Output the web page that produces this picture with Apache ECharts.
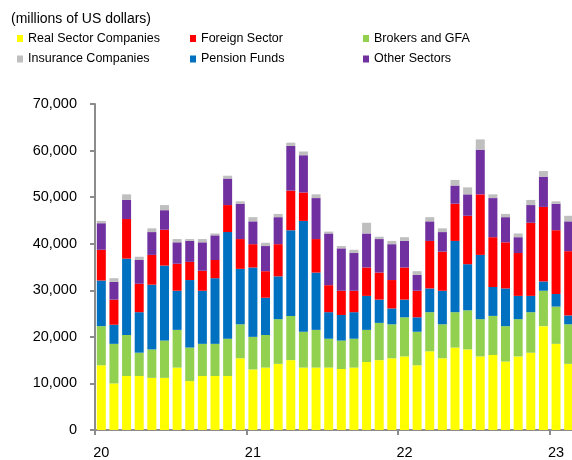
<!DOCTYPE html>
<html>
<head>
<meta charset="utf-8">
<script src="https://cdn.jsdelivr.net/npm/echarts@6/dist/echarts.min.js"></script>
<style>
html,body{margin:0;padding:0;background:#fff;overflow:hidden;width:572px;height:460px;}
#chart{width:580px;height:460px;}
</style>
</head>
<body>
<div id="chart"></div>
<script>
var months = [];
for (var y = 2020; y <= 2023; y++) {
  for (var m = 1; m <= 12; m++) {
    if (y === 2023 && m > 2) break;
    months.push(y + '-' + (m < 10 ? '0' + m : m));
  }
}
var yTicks = [0, 10000, 20000, 30000, 40000, 50000, 60000, 70000];

var realSector = [13900,10000,11600,11600,11200,11200,13400,10500,11600,11600,11600,15400,
                  13000,13400,14200,15000,13400,13400,13400,13100,13400,14600,15000,15400,
                  15800,13900,16900,15400,17700,17300,15800,16100,14700,15800,16600,22300,
                  18500,14200];
var brokers    = [8400,8500,8800,5000,6100,8000,8100,7200,6900,6900,8000,7300,
                  7000,7000,9600,9500,7700,8100,6200,6100,6200,6900,8000,7300,
                  8400,7200,8400,7300,7600,8400,8000,8400,7600,8000,8700,7600,
                  8000,8500];
var pension    = [9800,4100,16400,8700,13900,16100,8400,14500,11400,14100,22900,11900,
                  14900,8000,9200,18400,23800,12300,5700,5500,5700,7300,5000,3400,
                  3800,3100,5100,7200,15300,9900,13800,6200,8100,5000,3500,2000,
                  2700,1900];
var foreign    = [6600,5400,8500,6100,6400,7700,5800,3900,4300,3900,5800,6400,
                  5000,5700,6900,8500,6100,7200,5800,5200,4600,6100,5800,6100,
                  6900,5700,10200,8400,8000,10400,13000,10700,9900,9200,15700,16000,
                  13700,13800];
var other      = [5700,3800,4100,5100,4900,4200,4600,4500,6100,5300,5700,7600,
                  4900,5400,5800,9600,8000,8800,11100,9100,8100,7300,7200,7700,
                  5700,3400,4200,4200,3900,4600,9600,8400,5400,3400,3800,6500,
                  5700,6400];
var insurance  = [500,800,1200,700,800,1100,700,400,700,400,600,500,
                  900,700,700,700,800,800,400,500,700,2300,500,700,
                  800,800,900,800,1200,1500,2200,800,700,800,1100,1200,
                  500,1200];

var C = {
  real: '#FFFF00', foreign: '#FF0000', brokers: '#92D050',
  insurance: '#BFBFBF', pension: '#0070C0', other: '#7030A0'
};
var axisGray = '#8C8C8C';
var legendFont = {fontFamily: '"Liberation Sans",Arial,sans-serif', fontSize: 12.5, color: '#000'};

function mkLegend(name, left, top) {
  return {
    data: [name], left: left, top: top, padding: 0,
    icon: 'rect', itemWidth: 6, itemHeight: 7, itemGap: 0,
    textStyle: legendFont, selectedMode: false
  };
}
function bar(name, data, color) {
  return {
    name: name, type: 'bar', stack: 'total', data: data, barWidth: 9,
    itemStyle: {color: color}, animation: false, emphasis: {disabled: true}
  };
}

var chart = echarts.init(document.getElementById('chart'), null, {renderer: 'canvas'});
chart.setOption({
  animation: false,
  title: {
    text: '(millions of US dollars)', left: 11, top: 12, padding: 0,
    textStyle: {fontFamily: '"Liberation Sans",Arial,sans-serif', fontSize: 14, fontWeight: 'normal', color: '#000'}
  },
  legend: [
    mkLegend('Real Sector Companies', 17, 32),
    mkLegend('Foreign Sector', 190, 32),
    mkLegend('Brokers and GFA', 363, 32),
    mkLegend('Insurance Companies', 17, 52.5),
    mkLegend('Pension Funds', 190, 52.5),
    mkLegend('Other Sectors', 363, 52.5)
  ],
  grid: {left: 95, width: 480, top: 104, bottom: 28, containLabel: false},
  xAxis: {
    type: 'category', data: months, boundaryGap: true,
    axisLine: {show: true, lineStyle: {color: axisGray, width: 2}},
    axisTick: {show: true, length: 5, lineStyle: {color: axisGray, width: 2},
               interval: function (i) { return i % 12 === 0; }},
    axisLabel: {
      interval: function (i) { return i % 12 === 0; },
      formatter: function (v) { return v.slice(2, 4); },
      margin: 15, fontFamily: '"Liberation Sans",Arial,sans-serif', fontSize: 14.5, color: '#000'
    },
    splitLine: {show: false}
  },
  yAxis: {
    type: 'value', min: yTicks[0], max: yTicks[yTicks.length - 1], interval: 10000,
    axisLine: {show: true, lineStyle: {color: axisGray, width: 2}},
    axisTick: {show: true, length: 5, lineStyle: {color: axisGray, width: 2}},
    axisLabel: {
      margin: 18, fontFamily: '"Liberation Sans",Arial,sans-serif', fontSize: 14.5, color: '#000',
      formatter: function (v) { return v.toLocaleString('en-US'); }
    },
    splitLine: {show: false}
  },
  series: [
    bar('Real Sector Companies', realSector, C.real),
    bar('Brokers and GFA', brokers, C.brokers),
    bar('Pension Funds', pension, C.pension),
    bar('Foreign Sector', foreign, C.foreign),
    bar('Other Sectors', other, C.other),
    bar('Insurance Companies', insurance, C.insurance)
  ]
});
</script>
</body>
</html>
